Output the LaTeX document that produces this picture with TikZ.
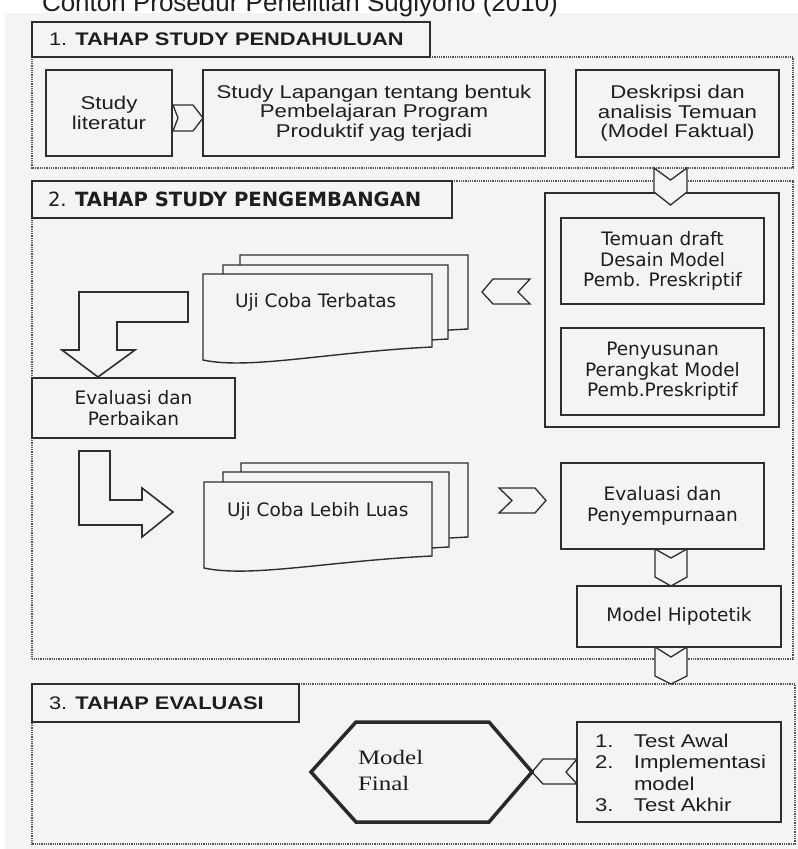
\documentclass[tikz,border=0pt]{standalone}
\usepackage{fontspec}
\setmainfont{Liberation Sans}
\newfontfamily\aw{Liberation Sans}[FakeStretch=1.2]
\newfontfamily\vd{DejaVu Sans}
\newfontfamily\tw{Liberation Serif}[FakeStretch=1.22]
\definecolor{bg}{HTML}{F4F4F4}
\definecolor{ln}{HTML}{2E2E2E}
\definecolor{tx}{HTML}{1E1E1E}
\definecolor{dt}{HTML}{555555}
\begin{document}
\begin{tikzpicture}[x=1pt,y=-1pt,
  box/.style={draw=ln,line width=1.4pt,fill=bg,inner sep=0pt,outer sep=0pt,text=tx,align=center},
  panel/.style={draw=dt,line width=1.1pt,dash pattern=on 1pt off 0.8pt},
  chev/.style={draw=ln,line width=1.3pt,fill=bg,line join=miter},
  bent/.style={draw=ln,line width=1.6pt,fill=bg,line join=miter},
  docsty/.style={draw=ln,line width=1.4pt,fill=bg},
  sa/.style={font=\aw\fontsize{18.5}{19.5}\selectfont},
  sb/.style={font=\vd\fontsize{18.5}{20.5}\selectfont},
  lbl/.style={inner sep=0pt,outer sep=0pt,text=tx}
]
\useasboundingbox (0,0) rectangle (798,849);
\fill[white] (0,0) rectangle (798,849);
\fill[bg] (5,13) rectangle (798,849);
\node[lbl,anchor=base west,font=\fontsize{26}{30}\selectfont] (title) at (42,11) {Contoh Prosedur Penelitian Sugiyono (2010)};

% ---------- Section 1 ----------
\draw[panel] (430,57) -- (793,57) -- (793,168) -- (32,168) -- (32,57);
\node[box,minimum width=398pt,minimum height=35pt] (h1) at (231,39.5) {};
\node[lbl,anchor=west,font=\aw\fontsize{18.2}{20}\selectfont] (h1t) at (49,39.5) {1. \textbf{TAHAP STUDY PENDAHULUAN}};
\node[box,sa,minimum width=126pt,minimum height=86pt] (lit) at (109,113) {Study\\literatur};
\node[box,sa,minimum width=342pt,minimum height=86pt] (lap) at (374,113) {Study Lapangan tentang bentuk\\Pembelajaran Program\\Produktif yag terjadi};
\node[box,sa,minimum width=203pt,minimum height=87pt] (desk) at (677.5,113.5) {Deskripsi dan\\analisis Temuan\\(Model Faktual)};
\draw[chev] (173,105) -- (193,105) -- (203,118) -- (193,131) -- (173,131) -- (178,118) -- cycle;

% ---------- Section 2 ----------
\draw[panel] (452,181) -- (793,181) -- (793,659) -- (32,659) -- (32,218);
\node[box,minimum width=420pt,minimum height=37pt] (h2) at (242,199.5) {};
\node[lbl,anchor=west,font=\vd\fontsize{19.6}{21}\selectfont] (h2t) at (48,199.5) {2. \textbf{TAHAP STUDY PENGEMBANGAN}};
\node[box,minimum width=234pt,minimum height=234pt] (big) at (662,310) {};
\node[box,sb,minimum width=203pt,minimum height=86pt] (tem) at (662.5,261) {Temuan draft\\Desain Model\\Pemb. Preskriptif};
\node[box,sb,minimum width=203pt,minimum height=87pt] (pen) at (662.5,371.5) {Penyusunan\\Perangkat Model\\Pemb.Preskriptif};
\draw[chev] (654,168) -- (670.5,180) -- (687,168) -- (687,192) -- (670.5,205) -- (654,192) -- cycle;
\draw[chev] (482,292) -- (493,279) -- (530,279) -- (518,292) -- (530,304) -- (493,304) -- cycle;

% document stack 1
\draw[docsty] (240,255) -- (468,255) -- (468,329) .. controls (365,334) and (286,352) .. (240,342) -- cycle;
\draw[docsty] (223,265) -- (448,265) -- (448,339) .. controls (347,344) and (268,362) .. (223,352) -- cycle;
\draw[docsty] (203,274) -- (432,274) -- (432,347) .. controls (329,352) and (249,370) .. (203,360) -- cycle;
\node[lbl,sb,anchor=west] (ujt) at (235,302) {Uji Coba Terbatas};

\draw[bent] (79,292) -- (188,292) -- (188,322) -- (117,322) -- (117,350) -- (135,350) -- (98,377) -- (62,350) -- (79,350) -- cycle;
\node[box,sb,minimum width=203pt,minimum height=60pt] (evp) at (133.5,408) {Evaluasi dan\\Perbaikan};
\draw[bent] (79,451) -- (110,451) -- (110,500) -- (142,500) -- (142,488) -- (173,512) -- (142,537) -- (142,525) -- (79,525) -- cycle;

% document stack 2
\draw[docsty] (241,463) -- (468,463) -- (468,537) .. controls (366,542) and (286,560) .. (241,550) -- cycle;
\draw[docsty] (223,472) -- (449,472) -- (449,547) .. controls (347,552) and (268,570) .. (223,560) -- cycle;
\draw[docsty] (204,482) -- (432,482) -- (432,556) .. controls (329,561) and (250,578) .. (204,568) -- cycle;
\node[lbl,sb,anchor=west] (ujl) at (227,511) {Uji Coba Lebih Luas};

\draw[chev] (499,488) -- (535,488) -- (546,500.5) -- (535,513) -- (499,513) -- (512,500.5) -- cycle;
\node[box,sb,minimum width=203pt,minimum height=86pt] (evs) at (662.5,506) {Evaluasi dan\\Penyempurnaan};
\node[box,sb,minimum width=204pt,minimum height=61pt] (hip) at (679,616.5) {Model Hipotetik};
\draw[chev] (655,549) -- (671,558) -- (687,549) -- (687,577) -- (671,586) -- (655,577) -- cycle;

% ---------- Section 3 ----------
\draw[panel] (299,684) -- (795,684) -- (795,844) -- (32,844) -- (32,722);
\draw[chev] (655,647) -- (671,657) -- (687,647) -- (687,676) -- (671,684) -- (655,676) -- cycle;
\node[box,minimum width=267pt,minimum height=38pt] (h3) at (165.5,703) {};
\node[lbl,anchor=west,font=\aw\fontsize{18.2}{20}\selectfont] (h3t) at (49,703) {3. \textbf{TAHAP EVALUASI}};
\draw[draw=ln!90!black,line width=3.5pt,fill=bg,line join=miter] (311,772) -- (356,722) -- (489,722) -- (532,772) -- (489,822) -- (356,822) -- cycle;
\node[lbl,anchor=west,align=left,font=\tw\fontsize{20.5}{26}\selectfont] (mf) at (358,770) {Model\\Final};
\node[box,minimum width=204pt,minimum height=100pt] (tst) at (679,772) {};
\node[lbl,anchor=west,align=left,font=\aw\fontsize{18.5}{21.3}\selectfont] (tstt) at (595,773) {\makebox[39pt][l]{1.}Test Awal\\\makebox[39pt][l]{2.}Implementasi\\\hspace*{39pt}model\\\makebox[39pt][l]{3.}Test Akhir};
\draw[chev,fill=none] (532,772) -- (543,759) -- (577,759) -- (566,772) -- (577,784) -- (543,784) -- cycle;
\end{tikzpicture}
\end{document}
